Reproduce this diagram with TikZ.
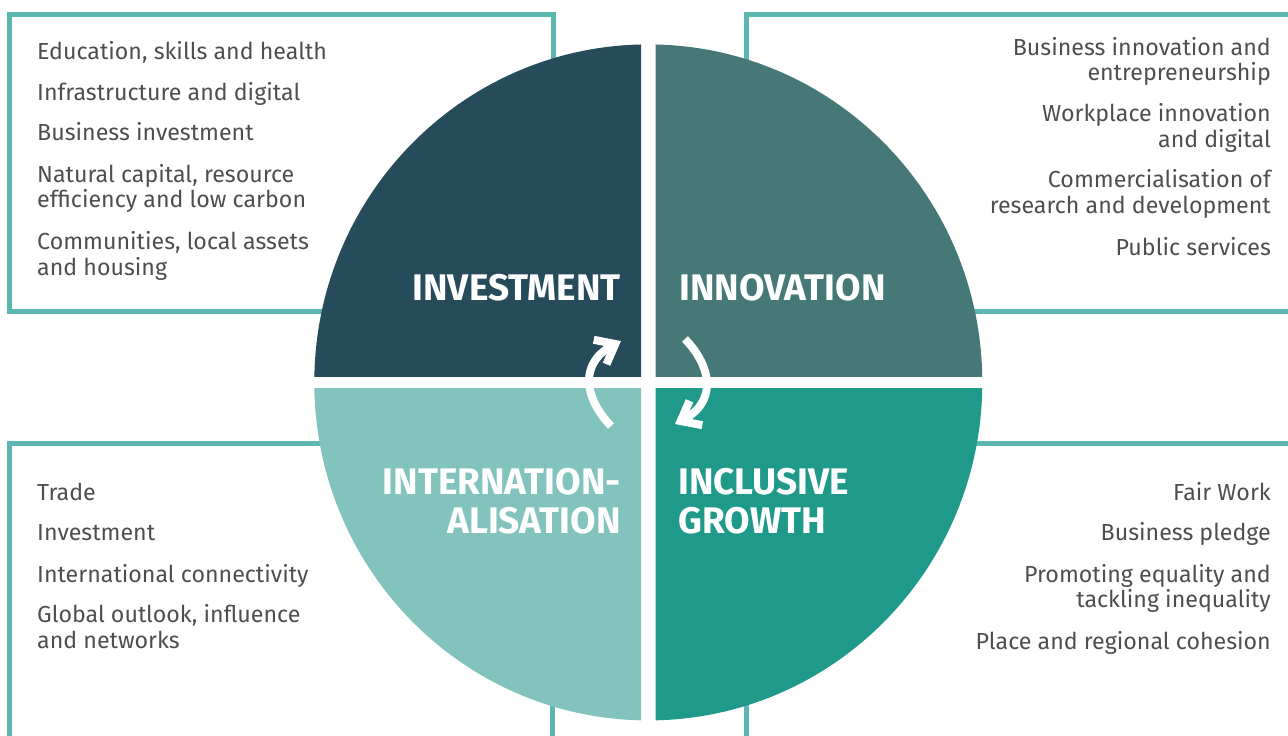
\documentclass[tikz,border=0pt]{standalone}
\usepackage{fontspec}
\setmainfont{Fira Sans}
\definecolor{investcol}{HTML}{264B5A}
\definecolor{innovcol}{HTML}{467878}
\definecolor{intlcol}{HTML}{82C3BE}
\definecolor{inclcol}{HTML}{1F998A}
\definecolor{framecol}{HTML}{5CB7B0}
\definecolor{txtcol}{HTML}{4D4E50}
\begin{document}
\begin{tikzpicture}[x=1pt,y=-1pt,
  frame/.style={draw=framecol, line width=5pt},
  itemL/.style={text=txtcol, font=\fontsize{23.2}{25.6}\selectfont, inner sep=0pt, anchor=base west, align=left},
  itemR/.style={text=txtcol, font=\fontsize{23.2}{25.6}\selectfont, inner sep=0pt, anchor=base east, align=right},
  headL/.style={text=white, font=\fontsize{37}{39}\selectfont\bfseries, inner sep=0pt, anchor=base west, align=left},
  headR/.style={text=white, font=\fontsize{37}{39}\selectfont\bfseries, inner sep=0pt, anchor=base east, align=right},
  arr/.style={draw=white, line width=8pt},
  barb/.style={draw=white, line width=8pt, line join=miter}]
\useasboundingbox (0,0) rectangle (1288,736);
\clip (0,0) rectangle (1288,736);
% frames
\draw[frame] (9,14) rectangle (553,311.5);
\draw[frame] (746.5,14) rectangle (1300,311.5);
\draw[frame] (9,443.5) rectangle (552,760);
\draw[frame] (746,443.3) rectangle (1300,760);
% quadrants
\coordinate (c) at (648.3,382.4);
\begin{scope}
  \clip (0,0) rectangle (641,376);
  \fill[investcol] (c) ellipse [x radius=334pt, y radius=338pt];
\end{scope}
\begin{scope}
  \clip (655.7,0) rectangle (1288,376);
  \fill[innovcol] (c) ellipse [x radius=334pt, y radius=338pt];
\end{scope}
\begin{scope}
  \clip (0,388.3) rectangle (641,736);
  \fill[intlcol] (c) ellipse [x radius=334pt, y radius=338pt];
\end{scope}
\begin{scope}
  \clip (655.7,388.3) rectangle (1288,736);
  \fill[inclcol] (c) ellipse [x radius=334pt, y radius=338pt];
\end{scope}
% headings (base = last line)
\node[headR] (hinv) at (621,300.7) {INVESTMENT};
\node[headL] (hinn) at (679,300.7) {INNOVATION};
\node[headR] (hint) at (621,533) {INTERNATION-\\ALISATION};
\node[headL] (hinc) at (678,533) {INCLUSIVE\\GROWTH};
% arrows
\coordinate (la0) at (611,426);
\coordinate (la1) at (615.3,344);
\draw[arr] (la0) .. controls (584,398) and (578,362) .. (la1);
\draw[barb] (593.7,339.8) -- (la1) -- (606.5,364.2);
\begin{scope}[rotate around={180:(648,382.5)}]
  \coordinate (ra0) at (611,426);
  \coordinate (ra1) at (615.3,344);
  \draw[arr] (ra0) .. controls (584,398) and (578,362) .. (ra1);
  \draw[barb] (593.7,339.8) -- (ra1) -- (606.5,364.2);
\end{scope}
% top-left list
\node[itemL] (tl1) at (37,59.3) {Education, skills and health};
\node[itemL] (tl2) at (37,100) {Infrastructure and digital};
\node[itemL] (tl3) at (37,140.7) {Business investment};
\node[itemL] (tl4) at (37,207.8) {Natural capital, resource\\efficiency and low carbon};
\node[itemL] (tl5) at (37,275) {Communities, local assets\\and housing};
% top-right list
\node[itemR] (tr1) at (1271,80.8) {Business innovation and\\entrepreneurship};
\node[itemR] (tr2) at (1271,147.5) {Workplace innovation\\and digital};
\node[itemR] (tr3) at (1271,213.5) {Commercialisation of\\research and development};
\node[itemR] (tr4) at (1271,255) {Public services};
% bottom-left list
\node[itemL] (bl1) at (37,500) {Trade};
\node[itemL] (bl2) at (37,540.7) {Investment};
\node[itemL] (bl3) at (37,582) {International connectivity};
\node[itemL] (bl4) at (37,648.3) {Global outlook, influence\\and networks};
% bottom-right list
\node[itemR] (br1) at (1271,500) {Fair Work};
\node[itemR] (br2) at (1271,540.7) {Business pledge};
\node[itemR] (br3) at (1271,607.8) {Promoting equality and\\tackling inequality};
\node[itemR] (br4) at (1271,649.3) {Place and regional cohesion};
\end{tikzpicture}
\end{document}
